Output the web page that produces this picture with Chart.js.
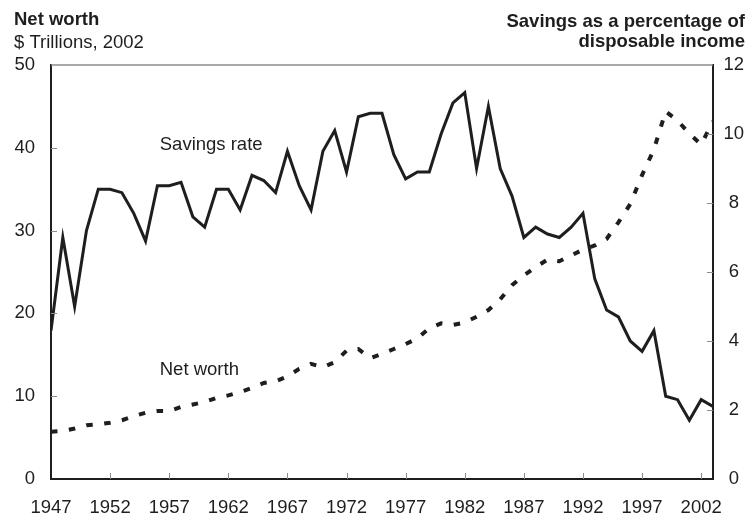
<!DOCTYPE html>
<html>
<head>
<meta charset="utf-8">
<script src="https://cdn.jsdelivr.net/npm/chart.js@4.4.1/dist/chart.umd.min.js"></script>
<style>
  html, body { margin: 0; padding: 0; background: #fff; }
  #wrap { width: 752px; height: 518px; }
</style>
</head>
<body>
<div id="wrap"><canvas id="chart" width="752" height="518"></canvas></div>
<script>
// data
const years = [
  1947, 1948, 1949, 1950, 1951, 1952, 1953, 1954, 1955, 1956,
  1957, 1958, 1959, 1960, 1961, 1962, 1963, 1964, 1965, 1966,
  1967, 1968, 1969, 1970, 1971, 1972, 1973, 1974, 1975, 1976,
  1977, 1978, 1979, 1980, 1981, 1982, 1983, 1984, 1985, 1986,
  1987, 1988, 1989, 1990, 1991, 1992, 1993, 1994, 1995, 1996,
  1997, 1998, 1999, 2000, 2001, 2002, 2003
];

// savings as % of disposable income (right axis)
const savingsRate = [
  4.3, 7.0, 5.0, 7.2, 8.4, 8.4, 8.3, 7.7, 6.9, 8.5,
  8.5, 8.6, 7.6, 7.3, 8.4, 8.4, 7.8, 8.8, 8.65, 8.3,
  9.5, 8.5, 7.8, 9.5, 10.1, 8.9, 10.5, 10.6, 10.6, 9.4,
  8.7, 8.9, 8.9, 10.0, 10.9, 11.2, 9.0, 10.8, 9.0, 8.2,
  7.0, 7.3, 7.1, 7.0, 7.3, 7.7, 5.8, 4.9, 4.7, 4.0,
  3.7, 4.3, 2.4, 2.3, 1.7, 2.3, 2.1
];

// net worth, $ trillions 2002 (left axis)
const netWorth = [
  5.7, 5.8, 6.1, 6.5, 6.6, 6.8, 7.1, 7.6, 8.0, 8.2,
  8.2, 8.7, 9.0, 9.3, 9.8, 10.1, 10.5, 11.0, 11.6, 11.8,
  12.4, 13.3, 13.9, 13.5, 14.1, 15.5, 15.7, 14.6, 15.1, 15.7,
  16.3, 17.0, 18.2, 18.8, 18.6, 18.9, 19.6, 20.4, 21.7, 23.4,
  24.6, 25.6, 26.5, 26.3, 27.0, 27.7, 28.2, 29.0, 31.0, 33.2,
  36.7, 39.8, 44.4, 43.3, 41.7, 40.4, 43.2
];

const xTicks = [1947, 1952, 1957, 1962, 1967, 1972, 1977, 1982, 1987, 1992, 1997, 2002];
const leftTicks = [0, 10, 20, 30, 40, 50];
const rightTicks = [0, 2, 4, 6, 8, 10, 12];

const FONT = '"Liberation Sans", Arial, Helvetica, sans-serif';
const INK = '#1f1d1e';
const TICK_GRAY = '#8c8c8c';

// inward tick marks, top border, titles and line labels
const decor = {
  id: 'decor',
  afterDraw(chart) {
    const { ctx, chartArea: a, scales } = chart;
    const x = scales.x, yl = scales.yLeft, yr = scales.yRight;
    ctx.save();

    ctx.strokeStyle = TICK_GRAY;
    ctx.lineWidth = 1.5;
    ctx.beginPath();
    ctx.moveTo(a.left, a.top);
    ctx.lineTo(a.right, a.top);
    ctx.stroke();

    ctx.lineWidth = 1;
    ctx.beginPath();
    xTicks.slice(1).forEach(v => {
      const px = Math.round(x.getPixelForValue(v)) + 0.5;
      ctx.moveTo(px, a.bottom);
      ctx.lineTo(px, a.bottom - 6);
    });
    leftTicks.slice(1, -1).forEach(v => {
      const py = Math.round(yl.getPixelForValue(v)) + 0.5;
      ctx.moveTo(a.left, py);
      ctx.lineTo(a.left + 6, py);
    });
    rightTicks.slice(1, -1).forEach(v => {
      const py = Math.round(yr.getPixelForValue(v)) + 0.5;
      ctx.moveTo(a.right, py);
      ctx.lineTo(a.right - 6, py);
    });
    ctx.stroke();

    ctx.fillStyle = INK;
    ctx.textBaseline = 'alphabetic';
    ctx.font = 'bold 18.5px ' + FONT;
    ctx.textAlign = 'left';
    ctx.fillText('Net worth', 14, 25);
    ctx.textAlign = 'right';
    ctx.fillText('Savings as a percentage of', 745, 27);
    ctx.fillText('disposable income', 745, 47);
    ctx.font = '18.5px ' + FONT;
    ctx.textAlign = 'left';
    ctx.fillText('$ Trillions, 2002', 14, 48);

    // series labels placed in data space
    ctx.fillText('Savings rate', x.getPixelForValue(1956.2), yr.getPixelForValue(9.55));
    ctx.fillText('Net worth', x.getPixelForValue(1956.2), yl.getPixelForValue(12.55));
    ctx.restore();
  }
};

new Chart(document.getElementById('chart'), {
  type: 'line',
  data: {
    labels: years,
    datasets: [
      {
        label: 'Savings rate',
        data: years.map((y, i) => ({ x: y, y: savingsRate[i] })),
        yAxisID: 'yRight',
        borderColor: INK,
        borderWidth: 3,
        pointRadius: 0,
        tension: 0
      },
      {
        label: 'Net worth',
        data: years.map((y, i) => ({ x: y, y: netWorth[i] })),
        yAxisID: 'yLeft',
        borderColor: INK,
        borderWidth: 4,
        borderDash: [6.5, 11.5],
        borderCapStyle: 'butt',
        pointRadius: 0,
        tension: 0
      }
    ]
  },
  options: {
    responsive: false,
    animation: false,
    layout: { padding: { top: 65, left: 0, right: 0, bottom: 0 } },
    plugins: { legend: { display: false }, tooltip: { enabled: false } },
    scales: {
      x: {
        type: 'linear',
        min: 1947,
        max: 2003,
        afterBuildTicks: s => { s.ticks = xTicks.map(v => ({ value: v })); },
        afterFit: s => { s.height = 39; },
        grid: { display: false, drawTicks: false },
        border: { display: true, color: INK, width: 2 },
        ticks: {
          padding: 18,
          color: INK,
          font: { family: FONT, size: 18.5 },
          maxRotation: 0,
          autoSkip: false,
          callback: v => String(v)
        }
      },
      yLeft: {
        position: 'left',
        min: 0,
        max: 50,
        afterBuildTicks: s => { s.ticks = leftTicks.map(v => ({ value: v })); },
        afterFit: s => { s.width = 51; },
        grid: { display: false, drawTicks: false },
        border: { display: true, color: INK, width: 2 },
        ticks: { padding: 16, color: INK, font: { family: FONT, size: 18.5 } }
      },
      yRight: {
        position: 'right',
        min: 0,
        max: 12,
        afterBuildTicks: s => { s.ticks = rightTicks.map(v => ({ value: v })); },
        afterFit: s => { s.width = 39; },
        grid: { display: false, drawTicks: false },
        border: { display: true, color: INK, width: 2 },
        ticks: { padding: 10.5, crossAlign: 'center', color: INK, font: { family: FONT, size: 18.5 } }
      }
    }
  },
  plugins: [decor]
});
</script>
</body>
</html>
